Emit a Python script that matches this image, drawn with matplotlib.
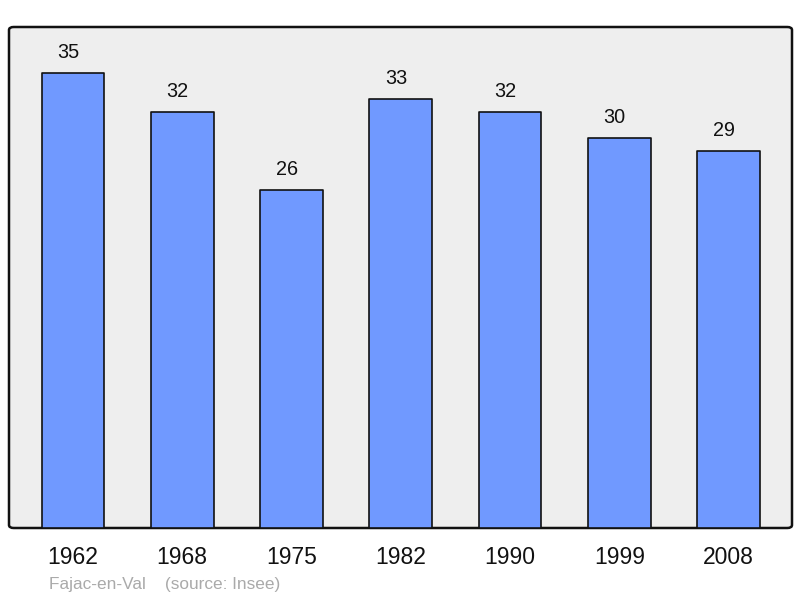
import matplotlib
matplotlib.use("Agg")
import matplotlib.pyplot as plt
from matplotlib.patches import FancyBboxPatch

years = ["1962", "1968", "1975", "1982", "1990", "1999", "2008"]
population = [35, 32, 26, 33, 32, 30, 29]

plt.rcParams['font.family'] = ['Liberation Sans', 'DejaVu Sans']

fig = plt.figure(figsize=(8.0, 5.98), dpi=100)
ax = fig.add_axes([9 / 800, 1 - 528 / 598, 783 / 800, 501 / 598])
ax.set_facecolor("none")

# rounded frame with grey background
frame = FancyBboxPatch((0, 0), 1, 1, boxstyle="round,pad=0,rounding_size=0.006",
                       transform=ax.transAxes, facecolor="#eeeeee",
                       edgecolor="#111111", linewidth=1.8, zorder=0, clip_on=False)
ax.add_patch(frame)

x = list(range(len(years)))
bars = ax.bar(x, population, width=0.575, color="#7099ff", edgecolor="#111111",
              linewidth=1.2, zorder=2)
for bar in bars:
    bar.set_joinstyle("round")

# value labels sit slightly left of bar centre, as in the original
for xi, v in zip(x, population):
    ax.annotate(str(v), (xi, v), xytext=(-3.3, 14.5), textcoords="offset points",
                ha="center", va="center", fontsize=14.3, color="#111111")

ax.set_xlim(-0.585, 6.58)
ax.set_ylim(0, 38.54)
ax.set_xticks(x)
ax.set_xticklabels(years, fontsize=16.5, color="#111111")
ax.tick_params(axis="x", length=0, pad=13)
ax.set_yticks([])
for s in ax.spines.values():
    s.set_visible(False)

fig.text(49 / 800, 1 - 584 / 598, "Fajac-en-Val    (source: Insee)",
         fontsize=12.4, color="#aaaaaa", ha="left", va="center")

fig.savefig("out.png", dpi=100)
